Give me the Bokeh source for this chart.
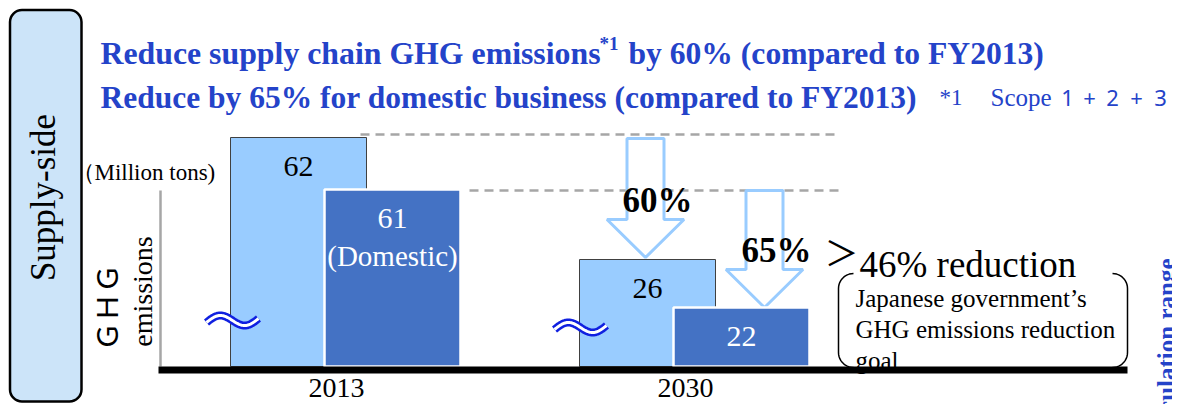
import numpy as np
from bokeh.plotting import figure
from bokeh.models import Range1d, ColumnDataSource
from bokeh.core.properties import value
from bokeh.embed import file_html
from bokeh.resources import INLINE

# ---------------- data ----------------
years = ["2013", "2030"]
supply_chain_total = [62, 26]      # million tons (Scope 1+2+3)
domestic_total = [61, 22]          # million tons, domestic business
reduction_labels = ["60%", "65%"]
# axis is truncated (broken), so bars are drawn schematically (px above baseline)
total_drawn = [229, 107]
domestic_drawn = [177, 59]

title1_a = "Reduce supply chain GHG emissions"
title1_sup = "*1"
title1_b = "by 60% (compared to FY2013)"
title2 = "Reduce by 65% for domestic business (compared to FY2013)"
note_mark = "*1"
note_scope = "Scope"
note_parts = ["1", "+", "2", "+", "3"]
gov_lines = ["Japanese government\u2019s", "GHG emissions reduction", "goal"]

BLUE = "#2443c9"
LIGHT = "#99ccff"
DARK = "#4472c4"
SERIF = "Liberation Serif"

BASE = 366  # baseline pixel row
W, H = 1172, 404


def Y(py):
    return BASE - py


p = figure(width=W, height=H, x_range=Range1d(0, W),
           y_range=Range1d(BASE - H, BASE),
           output_backend="svg", toolbar_location=None, min_border=0,
           x_axis_location=None, y_axis_location=None)
p.grid.visible = False
p.outline_line_color = None
p.background_fill_color = "white"
p.border_fill_color = "white"


def txt(x, py, s, size, color="black", bold=False, align="left",
        baseline="alphabetic", font=SERIF, angle=0.0):
    p.text(x=[x], y=[Y(py)], text=[s], text_font=value(font),
           text_font_size=f"{size}px", text_color=color,
           text_font_style="bold" if bold else "normal",
           text_align=align, text_baseline=baseline, angle=angle)


# ---------------- left label box ----------------
p.quad(left=[9.5], right=[81], top=[Y(9.5)], bottom=[Y(401)],
       fill_color="#cce4f9", line_color="black", line_width=2.5,
       border_radius=12)
txt(43, 197, "Supply-side", 35, align="center", baseline="middle",
    angle=np.pi / 2)

# ---------------- titles ----------------
txt(100, 53, title1_a, 31.8, BLUE, bold=True)
txt(599, 43, title1_sup, 19, BLUE, bold=True)
txt(628, 53, title1_b, 31.6, BLUE, bold=True)
txt(100, 97, title2, 31.5, BLUE, bold=True)
txt(939, 97, note_mark, 23, BLUE)
txt(990, 97, note_scope, 25, BLUE)
p.text(x=[1067, 1089, 1112, 1136, 1160], y=[Y(97)] * 5, text=note_parts,
       text_font=value("Noto Sans"), text_font_size="22px",
       text_color=BLUE, text_align="center", text_baseline="alphabetic")

# ---------------- axis labels ----------------
txt(71, 172, "\uff08Million tons)", 23)
txt(104, 307, "\uff27\uff28\uff27", 29, align="center", baseline="middle",
    font="Noto Sans CJK JP", angle=np.pi / 2)
txt(142, 291, "emissions", 28, align="center", baseline="middle",
    angle=np.pi / 2)
p.segment(x0=[160], y0=[Y(190)], x1=[160], y1=[0], line_color="#a6a6a6",
          line_width=2.5)

# ---------------- geometry derived from data ----------------
group_x = [345, 694]
bw = 136
light_x = [g - 47 for g in group_x]
dark_x = [g + 47 for g in group_x]

# dashed reference lines at 2013 levels
p.segment(x0=[360, 469], y0=[total_drawn[0] + 3, domestic_drawn[0] - 1],
          x1=[836, 843], y1=[total_drawn[0] + 3, domestic_drawn[0] - 1],
          line_color="#a6a6a6", line_width=2.5, line_dash="9 6")


# reduction arrows
def arrow(cx, top, tip, sh=18.5, hh=38.5, hl=38):
    xs = [cx - sh, cx + sh, cx + sh, cx + hh, cx, cx - hh, cx - sh]
    ys = [top, top, tip + hl, tip + hl, tip, tip + hl, tip + hl]
    return xs, ys


a1 = arrow(light_x[1] - 2, total_drawn[0] - 1, total_drawn[1] + 2)
a2 = arrow(dark_x[1] + 23, domestic_drawn[0] - 1, domestic_drawn[1])
p.patches(xs=[a1[0], a2[0]], ys=[a1[1], a2[1]], fill_color="white",
          line_color=LIGHT, line_width=3)

# bars
src_l = ColumnDataSource(dict(x=light_x, top=total_drawn,
                              lab=[str(v) for v in supply_chain_total],
                              ly=[h - 29 for h in total_drawn]))
src_d = ColumnDataSource(dict(x=dark_x, top=domestic_drawn,
                              lab=[str(v) for v in domestic_total],
                              ly=[h - 29 for h in domestic_drawn]))
p.vbar(x="x", top="top", bottom=0, width=bw, source=src_l,
       fill_color=LIGHT, line_color="#404040", line_width=1)
p.vbar(x="x", top="top", bottom=0, width=bw, source=src_d,
       fill_color=DARK, line_color="white", line_width=2.5)
p.text(x="x", y="ly", text="lab", source=src_l, text_font=value(SERIF),
       text_font_size="30px", text_color="black", text_align="center",
       text_baseline="middle")
p.text(x="x", y="ly", text="lab", source=src_d, text_font=value(SERIF),
       text_font_size="30px", text_color="white", text_align="center",
       text_baseline="middle")
p.text(x=[dark_x[0]], y=[domestic_drawn[0] - 66], text=["(Domestic)"],
       text_font=value(SERIF), text_font_size="29px", text_color="white",
       text_align="center", text_baseline="middle")

# percent labels
p.text(x=[light_x[1] + 10, dark_x[1] + 35],
       y=[Y(200), Y(250)], text=reduction_labels, text_font=value(SERIF),
       text_font_size="35px", text_font_style="bold", text_color="black",
       text_align="center", text_baseline="middle")

# break marks
for cx, cy in [(light_x[0] - 66, 320), (light_x[1] - 67, 327)]:
    t = np.linspace(0, 1, 60)
    xs = cx - 26 + 52 * t
    ys = [Y(cy - 6 * np.sin(2 * np.pi * tt) + 4 * (0.5 - tt)) for tt in t]
    p.line(xs, ys, line_color="#1020e0", line_width=8)
    p.line(xs, ys, line_color="white", line_width=3)

# government goal annotation
txt(841, 251, "\uff1e", 34, align="center", baseline="middle",
    font="Noto Sans CJK JP")
txt(859, 264, "46% reduction", 37)


def bracket(x_in, top, bot, sgn, r=15):
    th1 = np.linspace(np.pi / 2, np.pi, 12)
    xs = list(x_in + sgn * r * np.cos(th1))
    ys = list(top + r - r * np.sin(th1))
    th2 = np.linspace(np.pi, 1.5 * np.pi, 12)
    xs += list(x_in + sgn * r * np.cos(th2))
    ys += list(bot - r - r * np.sin(th2))
    return xs, [Y(v) for v in ys]


bl = bracket(853, 273, 367, 1)
br = bracket(1112, 273, 367, -1)
p.multi_line(xs=[bl[0], br[0]], ys=[bl[1], br[1]], line_color="black",
             line_width=1.5)
for i, line in enumerate(gov_lines):
    txt(855, 298 + 31 * i, line, 25)

# baseline
p.quad(left=[158], right=[1127], top=[0], bottom=[Y(373)],
       fill_color="black", line_color=None)

# year labels
p.text(x=[g - 9 for g in group_x], y=[Y(387)] * 2, text=years,
       text_font=value(SERIF), text_font_size="28px", text_color="black",
       text_align="center", text_baseline="middle")

# side label (cut off at the right edge, as in the original)
txt(1166, 258, "Calculation range", 25, BLUE, bold=True, align="right",
    baseline="middle", angle=np.pi / 2)

open("out.html", "w").write(file_html(p, INLINE))
